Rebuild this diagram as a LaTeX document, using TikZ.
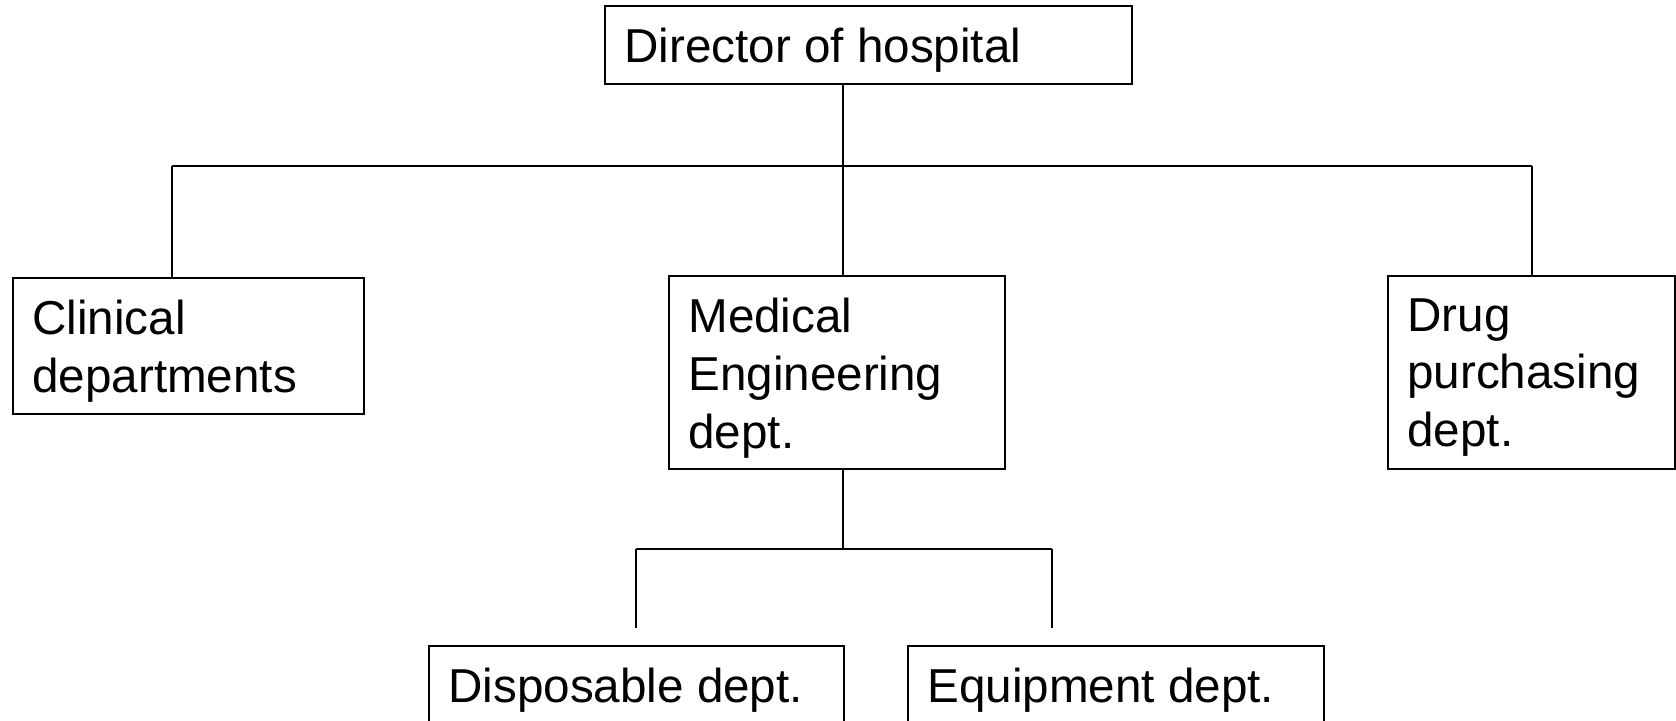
\documentclass[tikz,border=0pt]{standalone}
\usepackage{fontspec}
\setmainfont{Liberation Sans}
\begin{document}
\begin{tikzpicture}[x=0.5pt,y=-0.5pt,
  unitbox/.style={draw=black, line width=1pt, rectangle, inner sep=0pt, anchor=north west},
  boxtext/.style={anchor=north west, inner sep=0pt, align=left,
    font=\fontsize{23.8pt}{28.85pt}\selectfont},
  link/.style={draw=black, line width=1pt}]
  \path[use as bounding box, clip] (0,0) rectangle (1676,721);

  % boxes (position = top-left corner, size in px units)
  \node[unitbox, minimum width=263.5pt, minimum height=39pt] (dir)   at (604,5)   {};
  \node[unitbox, minimum width=175.5pt, minimum height=68pt] (clin)  at (12,277)  {};
  \node[unitbox, minimum width=168pt,   minimum height=96.5pt] (med) at (668,275) {};
  \node[unitbox, minimum width=143.5pt, minimum height=96.5pt] (drug) at (1387,275) {};
  \node[unitbox, minimum width=207.5pt, minimum height=60pt] (disp)  at (428,645)  {};
  \node[unitbox, minimum width=208pt,   minimum height=60pt] (equip) at (907,645)  {};

  % box texts
  \node[boxtext] (dirT)   at ([shift={(20,23)}]dir.north west)   {Director of hospital};
  \node[boxtext] (clinT)  at ([shift={(20,23)}]clin.north west)  {Clinical\\departments};
  \node[boxtext] (medT)   at ([shift={(20,23)}]med.north west)   {Medical\\Engineering\\dept.};
  \node[boxtext] (drugT)  at ([shift={(20,23)}]drug.north west)  {Drug\\purchasing\\dept.};
  \node[boxtext] (dispT)  at ([shift={(20,23)}]disp.north west)  {Disposable dept.};
  \node[boxtext] (equipT) at ([shift={(20,23)}]equip.north west) {Equipment dept.};

  % junction points of the tree
  \coordinate (hub)   at (843,166);
  \coordinate (busL)  at (172,166);
  \coordinate (busR)  at (1532,166);
  \coordinate (hubB)  at (843,549);
  \coordinate (subL)  at (636,549);
  \coordinate (subR)  at (1052,549);
  \coordinate (endL)  at (636,628);
  \coordinate (endR)  at (1052,628);

  % upper level
  \draw[link] (dir.south -| hub) -- (hub);
  \draw[link] (busL) -- (busR);
  \draw[link] (busL) -- (clin.north -| busL);
  \draw[link] (hub) -- (med.north -| hub);
  \draw[link] (busR) -- (drug.north -| busR);

  % lower level
  \draw[link] (med.south -| hubB) -- (hubB);
  \draw[link] (subL) -- (subR);
  \draw[link] (subL) -- (endL);
  \draw[link] (subR) -- (endR);
\end{tikzpicture}
\end{document}
